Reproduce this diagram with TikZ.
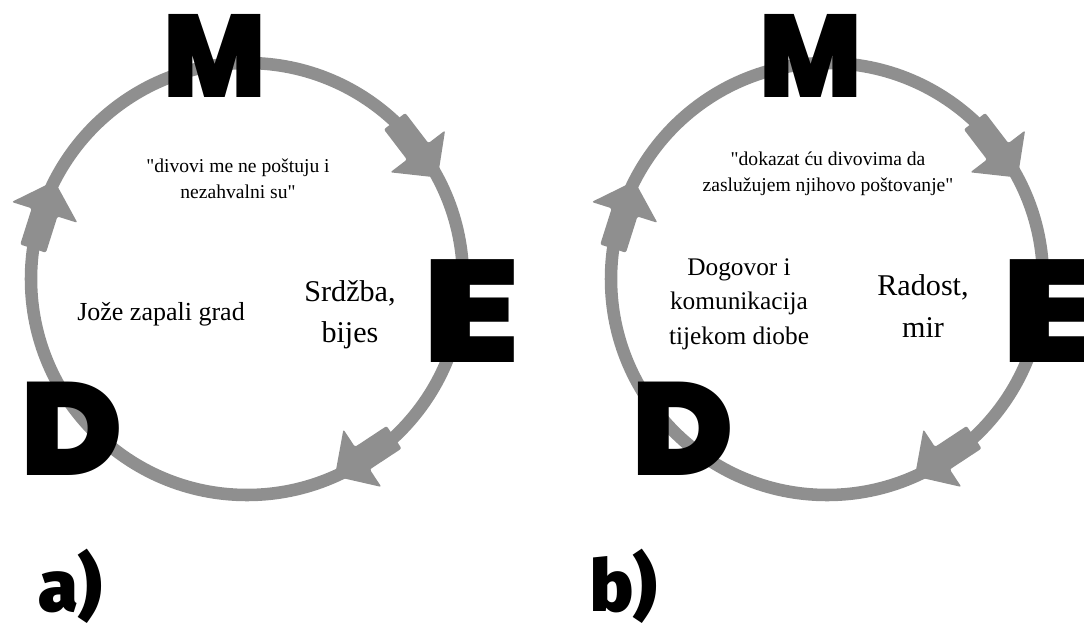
\documentclass[tikz,border=0pt]{standalone}
\usepackage{fontspec}
\setmainfont{Liberation Serif}
\newfontfamily\storyfont{Liberation Serif}
\newfontfamily\stagefont{Poppins Black}
\newfontfamily\panelfont{Fira Sans Black}
\usepackage{tikz}

\definecolor{cyclegray}{RGB}{143,143,143}

\tikzset{
  pics/cyclearrow/.style={code={
    \fill [cyclegray, rounded corners=1.5pt] (0,0) -- (-33,-34.5) -- (-33,-13.5) -- (-71,-13.5) -- (-71,13.5) -- (-33,13.5) -- (-33,34.5) -- cycle ;
  }}
}

\begin{document}
\begin{tikzpicture}[x=0.75pt,y=0.75pt,yscale=-1,xscale=1,
  ring/.style={draw=cyclegray, line width=9.4pt},
  stage/.style={inner sep=0pt, anchor=base, text=black},
  smalltxt/.style={inner sep=0.75pt, align=center, font=\storyfont\fontsize{14.7}{19.5}\selectfont},
  midtxt/.style={inner sep=0.75pt, align=center, font=\storyfont\fontsize{19}{26}\selectfont},
  bigtxt/.style={inner sep=0.75pt, align=center, font=\storyfont\fontsize{22.6}{31}\selectfont},
  panel/.style={inner sep=0pt, anchor=base, font=\panelfont\fontsize{54}{54}\selectfont}]
\useasboundingbox (0,0) rectangle (1084,628);

%Shapes: Circle [left cycle]
\draw [ring] (247,279) circle (216) ;
\pic [rotate=-52.6] at ([shift={(-28:216)}]247,279) {cyclearrow};
\pic [rotate=-146.6] at ([shift={(66:216)}]247,279) {cyclearrow};
\pic [rotate=-287.6] at ([shift={(207:216)}]247,279) {cyclearrow};

%Shapes: Circle [right cycle]
\draw [ring] (827,279) circle (216) ;
\pic [rotate=-52.6] at ([shift={(-28:216)}]827,279) {cyclearrow};
\pic [rotate=-146.6] at ([shift={(66:216)}]827,279) {cyclearrow};
\pic [rotate=-287.6] at ([shift={(207:216)}]827,279) {cyclearrow};

% Stage letters
\draw (215,97) node [stage, font=\stagefont\fontsize{88}{88}\selectfont] (mL) {\scalebox{0.92}[1]{M}};
\draw (471.5,362) node [stage, font=\stagefont\fontsize{109}{109}\selectfont] (eL) {\scalebox{1.21}[1]{E}};
\draw (72,475) node [stage, font=\stagefont\fontsize{99}{99}\selectfont] (dL) {\scalebox{1.05}[1]{D}};
\draw (811,97) node [stage, font=\stagefont\fontsize{88}{88}\selectfont] (mR) {\scalebox{0.92}[1]{M}};
\draw (1050.5,362) node [stage, font=\stagefont\fontsize{109}{109}\selectfont] (eR) {\scalebox{1.21}[1]{E}};
\draw (683,475) node [stage, font=\stagefont\fontsize{99}{99}\selectfont] (dR) {\scalebox{1.05}[1]{D}};

% Text Node
\draw (238,179) node [smalltxt] (misL) {"divovi me ne poštuju i\\nezahvalni su"};
% Text Node
\draw (161,314) node [midtxt, font=\storyfont\fontsize{19.5}{26}\selectfont] (actL) {Jože zapali grad};
% Text Node
\draw (350,315) node [bigtxt] (emoL) {Srdžba,\\bijes};
% Text Node
\draw (828,174) node [smalltxt] (misR) {"dokazat ću divovima da\\zaslužujem njihovo poštovanje"};
% Text Node
\draw (739,304) node [midtxt] (actR) {Dogovor i\\komunikacija\\tijekom diobe};
% Text Node
\draw (923,306) node [bigtxt] (emoR) {Radost,\\mir};

% Panel labels
\draw (70,611) node [panel] (tagA) {a)};
\draw (624,611) node [panel] (tagB) {b)};

\end{tikzpicture}
\end{document}
